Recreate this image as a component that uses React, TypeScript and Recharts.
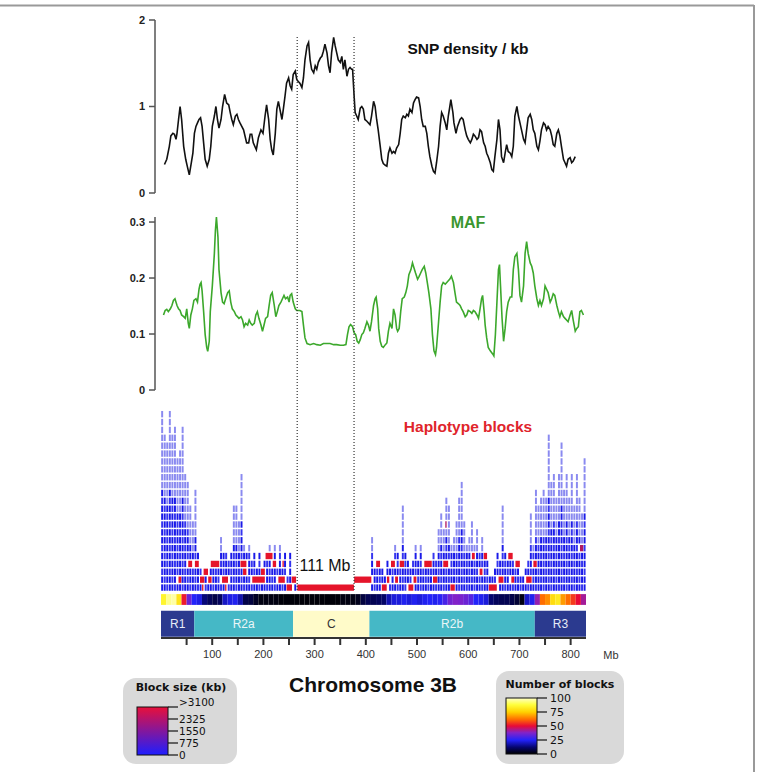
import React from 'react';
import { LineChart, Line, XAxis, YAxis, ReferenceLine, ComposedChart, Bar, ReferenceArea } from 'recharts';

// ---------- data ----------
const snpMb = [6.5,11,16,19,23,26,29,31,34,37,40,44,48,51,55,59,62,65,68,71,74,77,80,83,86,90,94,97,100,104,107,110,113,117,120,124,128,132,135,138,141,145,148,151,154,161,167,171,174,177,180,186,190,195,199,203,206,210,213,216,219,223,226,229,232,236,239,242,245,249,252,255,258,262,265,268,271,275,278,281,285,288,291,294,298,301,304,307,311,314,317,320,324,327,330,333,337,340,343,346,350,353,356,359,363,366,369,372,374,377,379,382,385,389,392,395,398,402,405,408,411,415,418,421,424,428,431,434,438,441,444,447,451,454,457,460,464,467,470,473,477,480,483,486,490,493,496,499,503,506,509,512,516,519,522,525,529,532,535,538,542,545,548,551,555,558,561,564,566,570,572,576,579,584,587,590,594,597,600,604,607,610,613,617,620,623,626,630,633,636,639,643,646,649,652,656,659,662,665,669,672,675,678,682,685,688,691,695,698,701,704,708,711,714,717,721,724,727,730,734,737,740,743,747,750,753,756,760,763,766,769,773,776,779,782,786,789,792,795,799,802,805,809];
const snpVal = [0.33,0.39,0.54,0.66,0.69,0.68,0.62,0.69,0.85,1.0,0.85,0.54,0.39,0.31,0.21,0.35,0.46,0.69,0.77,0.81,0.85,0.87,0.77,0.58,0.39,0.31,0.39,0.54,0.77,0.89,1.0,0.85,0.75,0.85,1.0,1.14,1.04,1.02,0.93,0.85,0.79,0.89,0.91,0.85,0.81,0.73,0.58,0.58,0.68,0.68,0.58,0.5,0.64,0.73,0.69,0.89,1.02,0.85,0.62,0.5,0.44,0.69,0.97,1.06,0.97,0.85,0.98,1.12,1.27,1.33,1.24,1.2,1.37,1.41,1.31,1.29,1.27,1.22,1.33,1.54,1.7,1.74,1.54,1.43,1.39,1.47,1.43,1.51,1.56,1.58,1.64,1.72,1.62,1.47,1.39,1.62,1.8,1.7,1.62,1.54,1.51,1.58,1.43,1.54,1.35,1.43,1.45,1.43,1.43,1.12,0.93,0.89,0.85,0.98,1.0,0.97,0.85,0.83,0.81,0.79,0.89,1.06,1.0,0.85,0.73,0.54,0.39,0.34,0.32,0.31,0.46,0.52,0.46,0.48,0.46,0.52,0.56,0.69,0.85,0.89,0.87,0.91,0.89,0.97,0.93,1.04,1.08,1.11,1.1,1.0,0.85,0.77,0.77,0.69,0.54,0.42,0.31,0.25,0.23,0.35,0.54,0.77,0.93,0.89,0.81,0.73,0.89,1.0,1.08,0.93,0.81,0.69,0.77,0.85,0.87,0.85,0.73,0.66,0.62,0.58,0.62,0.68,0.66,0.62,0.64,0.73,0.71,0.58,0.54,0.46,0.42,0.35,0.27,0.25,0.42,0.62,0.85,0.73,0.42,0.35,0.46,0.56,0.48,0.46,0.42,0.54,0.89,1.0,0.89,0.81,0.73,0.62,0.58,0.73,0.87,0.91,0.85,0.73,0.69,0.54,0.5,0.6,0.73,0.81,0.79,0.73,0.77,0.73,0.66,0.56,0.54,0.69,0.73,0.66,0.54,0.39,0.35,0.31,0.39,0.41,0.35,0.37,0.42];

const mafMb = [4.6,7.8,11,14,18,21,24,27,31,34,37,40,44,47,50,53,55,58,61,64,68,71,74,76,78,80,83,86,89,91,94,96,100,104,106,108,111,113,117,120,123,126,130,133,136,139,143,146,149,152,156,159,162,165,169,172,175,178,182,185,188,191,195,198,201,204,208,211,214,217,221,224,227,230,234,237,240,243,247,250,252,255,258,262,265,268,271,275,278,281,285,291,298,304,311,317,324,330,337,343,350,356,361,364,367,370,374,377,380,383,386,389,392,395,398,402,405,408,411,415,418,420,423,425,428,431,434,438,441,444,447,451,454,457,460,462,465,468,471,475,478,481,484,488,491,494,497,501,504,507,510,514,517,520,523,527,530,533,536,538,542,545,548,551,555,558,561,564,567,571,574,577,581,584,587,590,594,597,600,604,607,610,613,617,620,623,626,628,631,633,636,639,643,648,650,653,656,659,661,663,666,669,672,675,678,682,685,688,691,695,698,701,704,708,711,714,717,721,724,727,730,734,737,740,743,747,750,753,756,760,763,766,769,773,776,779,782,786,789,792,795,799,802,805,809,812,815,818,821,825];
const mafVal = [0.134,0.142,0.144,0.14,0.145,0.151,0.16,0.163,0.151,0.145,0.142,0.134,0.131,0.128,0.145,0.119,0.11,0.134,0.145,0.16,0.163,0.157,0.18,0.189,0.192,0.177,0.14,0.099,0.076,0.069,0.087,0.14,0.186,0.244,0.285,0.309,0.273,0.215,0.174,0.157,0.154,0.163,0.174,0.177,0.157,0.145,0.14,0.134,0.131,0.128,0.131,0.125,0.113,0.119,0.116,0.125,0.119,0.116,0.119,0.134,0.14,0.128,0.116,0.105,0.116,0.128,0.131,0.151,0.169,0.174,0.151,0.131,0.14,0.151,0.157,0.163,0.169,0.163,0.166,0.157,0.169,0.172,0.157,0.145,0.142,0.142,0.142,0.14,0.116,0.093,0.083,0.081,0.083,0.081,0.08,0.083,0.083,0.083,0.081,0.081,0.08,0.08,0.081,0.099,0.113,0.117,0.113,0.102,0.099,0.087,0.084,0.09,0.099,0.102,0.11,0.122,0.116,0.105,0.122,0.151,0.163,0.166,0.145,0.11,0.087,0.078,0.076,0.081,0.084,0.105,0.119,0.11,0.145,0.134,0.11,0.105,0.11,0.14,0.163,0.166,0.174,0.186,0.206,0.215,0.227,0.218,0.209,0.198,0.203,0.209,0.215,0.221,0.209,0.192,0.174,0.145,0.099,0.07,0.063,0.076,0.122,0.157,0.186,0.192,0.189,0.192,0.195,0.198,0.203,0.192,0.174,0.157,0.154,0.151,0.145,0.14,0.131,0.134,0.142,0.14,0.137,0.142,0.14,0.134,0.128,0.145,0.163,0.169,0.14,0.116,0.093,0.076,0.07,0.064,0.061,0.099,0.157,0.215,0.224,0.186,0.128,0.087,0.11,0.14,0.157,0.166,0.166,0.215,0.238,0.244,0.215,0.169,0.157,0.186,0.244,0.265,0.244,0.227,0.221,0.209,0.186,0.163,0.151,0.16,0.151,0.163,0.186,0.18,0.174,0.157,0.163,0.172,0.169,0.151,0.14,0.131,0.14,0.131,0.128,0.125,0.122,0.134,0.142,0.125,0.105,0.11,0.113,0.14,0.142,0.134];

// haplotype blocks: number of stacked blocks per 5 Mb bin (starting at 0 Mb)
const blockBinMb = 5;
const blockRows = [
  23,20,19,23,20,21,17,18,21,15, 14,11,9,13,5,3,3,3,2,4,
  4,3,4,7,5,5,4,5,11,11, 9,15,6,5,6,4,5,3,5,3,
  4,5,6,4,6,3,6,3,5,2, 5,2,2,0,0,0,0,0,0,0,
  0,0,0,0,0,0,0,0,0,0, 0,0,0,0,0,0,0,0,0,0,
  0,0,7,3,4,3,3,2,4,3, 4,6,5,3,11,5,4,3,4,6,
  4,6,4,4,3,4,5,4,8,10, 8,12,11,6,7,9,12,14,9,6,
  7,9,6,8,5,7,5,4,2,2, 3,5,4,11,5,5,4,4,4,3,
  2,2,3,4,10,6,13,11,12,13, 12,20,14,15,12,15,19,13,15,12,
  15,11,15,12,10,17
];
// large blocks (red): start Mb, end Mb, stack row
const redStart = [34,53,66,76,80,83,92,97,119,125,155,160,178,195,204,218,229,237,245,255,266,377,420,431,441,449,457,466,483,493,514,531,551,555,565,607,622,630,640,659,678,684,692,713,727,818];
const redEnd   = [40,61,74,85,83,92,99,114,131,128,167,167,203,203,218,225,242,240,256,264,377,411,428,441,446,457,463,475,493,499,529,540,561,558,574,613,628,637,656,669,687,690,701,724,734,825];
const redRow   = [2,4,4,2,1,3,2,4,2,1,4,3,2,3,5,4,2,4,1,2,1,2,4,1,2,4,2,4,1,2,4,2,4,9,1,5,3,5,1,2,5,2,4,2,4,6];

// number of blocks per 10 Mb bin (colour strip)
const countBinMb = 10;
const blockCount = [85,95,97,80,52,35,25,23,13,10, 8,10,20,23,24,18,8,7,4,2, 2,2,2,1,1,1,1,1,1,1, 1,1,1,1,1,2,2,2,3,7, 9,9,10,11,18,22,22,24,22,24, 22,24,25,24,26,30,36,38,37,35, 32,25,24,22,12,10,9,9,8,6, 2,20,24,40,62,66,78,82,68,62, 56,50,42];

const regionNames = ['R1', 'R2a', 'C', 'R2b', 'R3'];
const regionStart = [0, 65, 258, 407, 730];
const regionEnd = [65, 258, 407, 730, 830];

const mbTicks = [50,100,150,200,250,300,350,400,450,500,550,600,650,700,750,800];
const snpTicks = [0, 1, 2];
const mafTicks = [0, 0.1, 0.2, 0.3];
const boundaryMb = [266, 377];
const blockSizeLegend = ['>3100', '2325', '1550', '775', '0'];
const blockCountLegend = ['100', '75', '50', '25', '0'];

// ---------- styling helpers ----------
const FONT = '"Liberation Sans", Arial, Helvetica, sans-serif';
const LEGFONT = '"DejaVu Sans", Verdana, sans-serif';
const X0 = 161, X1 = 586; // plot pixel extent for 0..830 Mb
const pxPerMb = (X1 - X0) / 830;

const regionFill = ['#2b3a8f', '#45b8c6', '#fffbc9', '#45b8c6', '#2b3a8f'];
const regionText = ['#e6ecf7', '#eaf6f8', '#333333', '#eaf6f8', '#e6ecf7'];

const cmapStops: [number, number[]][] = [
  [0, [0, 0, 0]], [12, [5, 5, 110]], [25, [35, 35, 250]], [38, [130, 35, 200]],
  [50, [232, 10, 55]], [62, [255, 110, 0]], [75, [255, 210, 0]], [88, [255, 255, 60]], [100, [255, 255, 200]],
];
function countColor(v: number) {
  for (let i = 1; i < cmapStops.length; i++) {
    const [b, cb] = cmapStops[i];
    const [a, ca] = cmapStops[i - 1];
    if (v <= b) {
      const t = (v - a) / (b - a);
      const c = ca.map((x, k) => Math.round(x + (cb[k] - x) * t));
      return `rgb(${c[0]},${c[1]},${c[2]})`;
    }
  }
  return 'rgb(255,255,200)';
}

function redCovers(start: number, row: number) {
  for (let i = 0; i < redStart.length; i++) {
    if (redRow[i] === row && redStart[i] < start + blockBinMb && redEnd[i] > start) return true;
  }
  return false;
}

const BlockColumn = (props: any) => {
  const { x, y, width, height, payload, index } = props;
  const n = payload ? payload.rows : 0;
  if (!n || !(height > 0)) return <g />;
  const rowPx = height / n;
  const cellW = blockBinMb * pxPerMb;
  const cx = x + width / 2;
  const cells: any[] = [];
  for (let r = 1; r <= n; r++) {
    if (redCovers(payload.start, r)) continue;
    const top = y + height - r * rowPx;
    const sparse = r > Math.max(5, n * 0.6);
    const dense = (index + r) % 3 === 0 ? '#3535f0' : '#1a1ae8';
    cells.push(
      <rect key={r} x={cx - cellW / 2 + 0.3} y={top + 0.75} width={cellW - 0.6} height={rowPx - 1.5}
        fill={sparse ? '#8a8af0' : dense} />
    );
  }
  return <g>{cells}</g>;
};

const Txt = ({ x, y, children, style }: any) => (
  <div style={{ position: 'absolute', left: x, top: y, transform: 'translate(-50%,-50%)', whiteSpace: 'nowrap', lineHeight: 1, ...style }}>
    {children}
  </div>
);

export default function App() {
  const snpData = snpMb.map((m, i) => ({ mb: m, v: snpVal[i] }));
  const mafData = mafMb.map((m, i) => ({ mb: m, v: mafVal[i] }));
  const blockData = blockRows.map((r, i) => ({ mid: i * blockBinMb + blockBinMb / 2, start: i * blockBinMb, rows: r }));

  const yTick = { fontSize: 11, fontWeight: 700, fill: '#222', fontFamily: FONT };
  const axisStroke = { stroke: '#555', strokeWidth: 1.5 };

  return (
    <div style={{ position: 'absolute', left: 0, top: 0, width: 762, height: 772, background: '#fff', fontFamily: FONT, overflow: 'hidden' }}>
      {/* frame + legends */}
      <svg width={762} height={772} style={{ position: 'absolute', left: 0, top: 0 }}>
        <defs>
          <linearGradient id="gBlock" x1="0" y1="1" x2="0" y2="0">
            <stop offset="0" stopColor="#1e1eff" />
            <stop offset="1" stopColor="#e8103a" />
          </linearGradient>
          <linearGradient id="gCount" x1="0" y1="1" x2="0" y2="0">
            {cmapStops.map(([v, c]) => (
              <stop key={v} offset={v / 100} stopColor={`rgb(${c[0]},${c[1]},${c[2]})`} />
            ))}
          </linearGradient>
        </defs>
        <line x1={0} y1={5.5} x2={754} y2={5.5} stroke="#999" strokeWidth={1.8} />
        <line x1={754} y1={5} x2={754} y2={772} stroke="#999" strokeWidth={2} />

        <rect x={123} y={678} width={114} height={86} rx={13} fill="#d9d9d9" />
        <text x={181} y={691} textAnchor="middle" fontFamily={LEGFONT} fontWeight={700} fontSize={11} fill="#111">Block size (kb)</text>
        <rect x={137} y={707} width={31} height={48} fill="url(#gBlock)" stroke="#111" strokeWidth={1} />
        {blockSizeLegend.map((t, i) => (
          <g key={t}>
            <line x1={168} x2={178} y1={707 + i * 12} y2={707 + i * 12} stroke="#111" strokeWidth={1.2} />
            <text x={179} y={(i === 0 ? 702 : 707 + i * 12) + 3.5} fontFamily={LEGFONT} fontSize={10.5} fill="#111">{t}</text>
          </g>
        ))}

        <rect x={496} y={671} width={128} height={93} rx={13} fill="#d9d9d9" />
        <text x={560} y={688} textAnchor="middle" fontFamily={LEGFONT} fontWeight={700} fontSize={11} fill="#111">Number of blocks</text>
        <rect x={506} y={698} width={31} height={56} fill="url(#gCount)" stroke="#111" strokeWidth={1} />
        {blockCountLegend.map((t, i) => (
          <g key={t}>
            <line x1={537} x2={547} y1={698 + i * 14} y2={698 + i * 14} stroke="#111" strokeWidth={1.2} />
            <text x={550} y={698 + i * 14 + 4} fontFamily={LEGFONT} fontSize={11} fill="#111">{t}</text>
          </g>
        ))}
      </svg>

      {/* SNP density */}
      <div style={{ position: 'absolute', left: 0, top: 0 }}>
        <LineChart width={762} height={200} data={snpData} margin={{ top: 20, right: 762 - X1, bottom: 7, left: 115 }}>
          <XAxis dataKey="mb" type="number" domain={[-12, 830]} hide allowDataOverflow />
          <YAxis type="number" domain={[0, 2]} ticks={snpTicks} width={40} tick={yTick} tickSize={6} tickMargin={4}
            axisLine={axisStroke} tickLine={axisStroke} interval={0} />
          <Line dataKey="v" type="linear" stroke="#111" strokeWidth={1.6} dot={false} isAnimationActive={false} />
        </LineChart>
      </div>

      {/* MAF */}
      <div style={{ position: 'absolute', left: 0, top: 200 }}>
        <LineChart width={762} height={200} data={mafData} margin={{ top: 17, right: 762 - X1, bottom: 10, left: 115 }}>
          <XAxis dataKey="mb" type="number" domain={[-12, 830]} hide allowDataOverflow />
          <YAxis type="number" domain={[0, 0.3]} ticks={mafTicks} width={40} tick={yTick} tickSize={6} tickMargin={4}
            axisLine={axisStroke} tickLine={axisStroke} interval={0}
            tickFormatter={(v: number) => (v === 0 ? '0' : v.toFixed(1))} />
          <Line dataKey="v" type="linear" stroke="#3ca82c" strokeWidth={1.6} dot={false} isAnimationActive={false} />
        </LineChart>
      </div>

      {/* Haplotype blocks + colour strip + regions + Mb axis */}
      <div style={{ position: 'absolute', left: 0, top: 395 }}>
        <ComposedChart width={762} height={275} data={blockData} margin={{ top: 10.5, right: 762 - X1, bottom: 2, left: X0 }}>
          <XAxis dataKey="mid" type="number" domain={[0, 830]} ticks={mbTicks} interval={0} height={30}
            tickFormatter={(v: number) => (v % 100 === 0 ? String(v) : '')}
            tick={{ fontSize: 11, fill: '#333', fontFamily: FONT }} tickSize={7} tickMargin={5}
            axisLine={{ stroke: '#333', strokeWidth: 2 }} tickLine={{ stroke: '#333', strokeWidth: 2 }} allowDataOverflow />
          <YAxis type="number" domain={[-5.9, 23.6]} hide allowDataOverflow />
          {blockCount.map((c, i) => (
            <ReferenceArea key={'c' + i} x1={i * countBinMb} x2={(i + 1) * countBinMb} y1={-1.7} y2={-0.33}
              fill={countColor(c)} fillOpacity={1} stroke="none" ifOverflow="visible" />
          ))}
          {regionNames.map((n, i) => (
            <ReferenceArea key={'r' + i} x1={regionStart[i]} x2={regionEnd[i]} y1={-5.74} y2={-2.45}
              fill={regionFill[i]} fillOpacity={1} stroke="none" ifOverflow="visible"
              label={{ value: n, position: 'center', fill: regionText[i], fontSize: 12, fontFamily: FONT }} />
          ))}
          <Bar dataKey="rows" barSize={blockBinMb * pxPerMb} shape={(p: any) => <BlockColumn {...p} />} isAnimationActive={false} />
          {redStart.map((s, i) => (
            <ReferenceArea key={'b' + i} x1={s + 0.2} x2={redEnd[i] - 0.2} y1={redRow[i] - 1 + 0.1} y2={redRow[i] - 0.1}
              fill={redRow[i] >= 6 ? '#b01860' : '#e5142a'} fillOpacity={1} stroke="none" ifOverflow="visible" />
          ))}
        </ComposedChart>
      </div>

      {/* dotted boundaries */}
      <div style={{ position: 'absolute', left: 0, top: 36 }}>
        <LineChart width={762} height={554} data={snpData} margin={{ top: 0, right: 762 - X1, bottom: 0, left: X0 }}>
          <XAxis dataKey="mb" type="number" domain={[0, 830]} hide allowDataOverflow />
          <YAxis type="number" domain={[0, 1]} hide allowDataOverflow />
          <Line dataKey="v" stroke="none" dot={false} isAnimationActive={false} />
          {boundaryMb.map((b) => (
            <ReferenceLine key={b} x={b} stroke="#333" strokeWidth={1.2} strokeDasharray="1 2" />
          ))}
        </LineChart>
      </div>

      <Txt x={468} y={49} style={{ fontSize: 15.5, fontWeight: 700, color: '#111' }}>SNP density / kb</Txt>
      <Txt x={468} y={223} style={{ fontSize: 16, fontWeight: 700, color: '#3b9630' }}>MAF</Txt>
      <Txt x={468} y={427} style={{ fontSize: 15.5, fontWeight: 700, color: '#e0242b' }}>Haplotype blocks</Txt>
      <Txt x={325} y={566} style={{ fontSize: 16, color: '#111' }}>111 Mb</Txt>
      <Txt x={611} y={655} style={{ fontSize: 11, color: '#333' }}>Mb</Txt>
      <Txt x={373} y={684} style={{ fontSize: 21, fontWeight: 700, color: '#111' }}>Chromosome 3B</Txt>
    </div>
  );
}
